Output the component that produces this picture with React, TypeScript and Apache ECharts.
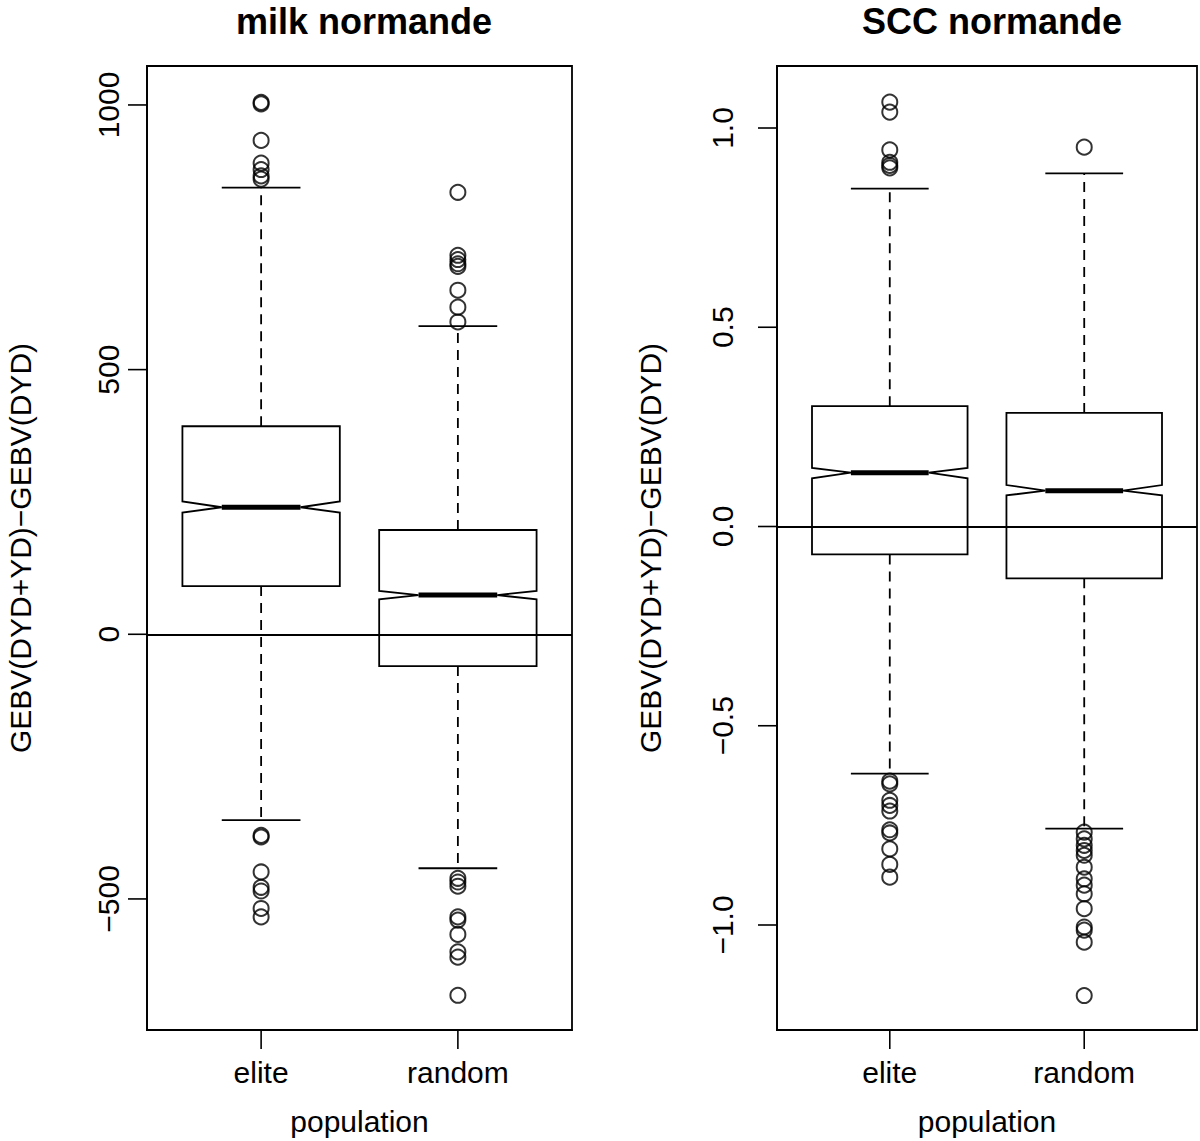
import React, { useEffect, useRef } from "react";
import * as echarts from "echarts";

const categories = ["elite", "random"];

// milk normande
const milkLowerWhisker = [-351, -442];
const milkQ1 = [91, -60];
const milkNotchLow = [230, 66];
const milkMedian = [240, 74];
const milkNotchHigh = [251, 82];
const milkQ3 = [393, 197];
const milkUpperWhisker = [844, 582];
const milkOutliersElite = [1005, 1002, 933, 890, 878, 866, 860, -380, -383, -449, -478, -485, -518, -534];
const milkOutliersRandom = [835, 716, 708, 700, 695, 650, 618, 590, -461, -468, -476, -534, -540, -567, -600, -610, -682];
const milkTicks = [-500, 0, 500, 1000];

// SCC normande
const sccLowerWhisker = [-0.62, -0.758];
const sccQ1 = [-0.07, -0.13];
const sccNotchLow = [0.121, 0.078];
const sccMedian = [0.135, 0.09];
const sccNotchHigh = [0.147, 0.104];
const sccQ3 = [0.302, 0.285];
const sccUpperWhisker = [0.848, 0.886];
const sccOutliersElite = [1.065, 1.04, 0.945, 0.914, 0.906, 0.9, -0.639, -0.646, -0.687, -0.7, -0.714, -0.761, -0.769, -0.809, -0.848, -0.88];
const sccOutliersRandom = [0.952, -0.767, -0.784, -0.8, -0.813, -0.825, -0.855, -0.884, -0.9, -0.922, -0.959, -1.005, -1.013, -1.043, -1.177];
const sccTicks = [-1.0, -0.5, 0.0, 0.5, 1.0];

const xTicks = [1, 2];
const X_MIN = 0.42;
const X_MAX = 2.58;
const MILK_MIN = -747.6;
const MILK_MAX = 1073.6;
const SCC_MIN = -1.2635;
const SCC_MAX = 1.1556;

const FONT = "'Liberation Sans', Arial, Helvetica, sans-serif";
const MINUS = "\u2212";
const TICK_LEN = 19;
const TICK_W = 1.6;

function buildBoxData(lw: number[], q1: number[], nlo: number[], med: number[], nhi: number[], q3: number[], uw: number[]) {
  return categories.map((_, i) => [i + 1, lw[i], q1[i], nlo[i], med[i], nhi[i], q3[i], uw[i]]);
}

function buildOutliers(lists: number[][]) {
  const out: number[][] = [];
  lists.forEach((l, i) => l.forEach((v) => out.push([i + 1, v])));
  return out;
}

// x-axis ticks drawn through api.coord
function makeXTickRenderer(yMin: number) {
  return (params: any, api: any) => {
    const children: any[] = [];
    xTicks.forEach((v) => {
      const p = api.coord([v, yMin]);
      children.push({
        type: "line",
        shape: { x1: p[0], y1: p[1], x2: p[0], y2: p[1] + TICK_LEN },
        style: { stroke: "#000", lineWidth: TICK_W },
      });
    });
    return { type: "group", children };
  };
}

function renderNotchedBox(params: any, api: any) {
  const x = api.value(0);
  const lw = api.value(1);
  const q1 = api.value(2);
  const nlo = api.value(3);
  const med = api.value(4);
  const nhi = api.value(5);
  const q3 = api.value(6);
  const uw = api.value(7);
  const hw = 0.4;
  const p = (dx: number, v: number) => api.coord([x + dx, v]);
  const pts = [
    p(-hw, q1), p(-hw, nlo), p(-hw / 2, med), p(-hw, nhi), p(-hw, q3),
    p(hw, q3), p(hw, nhi), p(hw / 2, med), p(hw, nlo), p(hw, q1),
  ];
  const lineStyle = { stroke: "#000", lineWidth: 1.8, fill: "none" };
  const dashStyle = { stroke: "#000", lineWidth: 1.8, lineDash: [10, 7], fill: "none" };
  const seg = (a: number[], b: number[], style: any) => ({
    type: "line",
    shape: { x1: a[0], y1: a[1], x2: b[0], y2: b[1] },
    style,
  });
  return {
    type: "group",
    children: [
      seg(p(0, q3), p(0, uw), dashStyle),
      seg(p(0, q1), p(0, lw), dashStyle),
      seg(p(-hw / 2, uw), p(hw / 2, uw), lineStyle),
      seg(p(-hw / 2, lw), p(hw / 2, lw), lineStyle),
      { type: "polygon", shape: { points: pts }, style: { fill: "none", stroke: "#000", lineWidth: 1.8 } },
      seg(p(-hw / 2, med), p(hw / 2, med), { stroke: "#000", lineWidth: 5 }),
    ],
  };
}

export default function App() {
  const ref = useRef<HTMLDivElement>(null);
  useEffect(() => {
    if (!ref.current) return;
    const chart = echarts.init(ref.current, undefined, { renderer: "svg" });
    const grids = [
      { left: 147, top: 66, width: 425, height: 964 },
      { left: 777, top: 66, width: 420, height: 964 },
    ];
    const xAxisBase = (gi: number) => ({
      type: "value",
      gridIndex: gi,
      min: X_MIN,
      max: X_MAX,
      splitLine: { show: false },
      axisLine: { show: true, onZero: false, lineStyle: { color: "#000", width: 1.8 } },
      axisTick: { show: false },
      axisLabel: {
        customValues: xTicks,
        formatter: (v: number) => categories[Math.round(v) - 1] ?? "",
        color: "#000",
        fontFamily: FONT,
        fontSize: 30,
        margin: 27,
      },
      name: "population",
      nameLocation: "middle",
      nameGap: 76,
      nameTextStyle: { color: "#000", fontFamily: FONT, fontSize: 30 },
    });
    const fmtMilk = (v: number) => (v < 0 ? MINUS + Math.abs(v) : String(v));
    const fmtScc = (v: number) => (v < 0 ? MINUS + Math.abs(v).toFixed(1) : v.toFixed(1));
    const yAxisBase = (
      gi: number,
      min: number,
      max: number,
      ticks: number[],
      fmt: (v: number) => string,
      margin: number,
      nameGap: number
    ) => ({
      type: "value",
      gridIndex: gi,
      min,
      max,
      splitLine: { show: false },
      axisLine: { show: true, onZero: false, lineStyle: { color: "#000", width: 1.8 } },
      axisTick: { show: false },
      axisLabel: {
        customValues: ticks,
        formatter: fmt,
        rotate: 90,
        color: "#000",
        fontFamily: FONT,
        fontSize: 30,
        margin,
      },
      name: "GEBV(DYD+YD)" + MINUS + "GEBV(DYD)",
      nameLocation: "middle",
      nameGap,
      nameTextStyle: { color: "#000", fontFamily: FONT, fontSize: 30 },
    });
    const zeroLine = {
      silent: true,
      symbol: ["none", "none"],
      label: { show: false },
      lineStyle: { color: "#000", type: "solid", width: 1.8 },
      data: [{ yAxis: 0 }],
    };
    const scatterStyle = {
      symbol: "circle",
      symbolSize: 15,
      itemStyle: { color: "rgba(0,0,0,0)", borderColor: "#000", borderWidth: 2 },
    };
    const xTickSeries = (gi: number, yMid: number, yMin: number) => ({
      type: "custom",
      xAxisIndex: gi,
      yAxisIndex: gi,
      clip: false,
      silent: true,
      z: 5,
      renderItem: makeXTickRenderer(yMin),
      encode: { x: 0, y: 1 },
      data: [[1.5, yMid]],
    });
    chart.setOption({
      animation: false,
      backgroundColor: "#fff",
      title: [
        {
          text: "milk normande",
          left: 359,
          top: -2,
          textAlign: "center",
          textStyle: { color: "#000", fontFamily: FONT, fontSize: 36, fontWeight: "bold" },
        },
        {
          text: "SCC normande",
          left: 987,
          top: -2,
          textAlign: "center",
          textStyle: { color: "#000", fontFamily: FONT, fontSize: 36, fontWeight: "bold" },
        },
      ],
      grid: grids.map((g) => ({ ...g, show: true, borderColor: "#000", borderWidth: 1.8, backgroundColor: "transparent" })),
      xAxis: [xAxisBase(0), xAxisBase(1)],
      yAxis: [
        yAxisBase(0, MILK_MIN, MILK_MAX, milkTicks, fmtMilk, 24, 112),
        yAxisBase(1, SCC_MIN, SCC_MAX, sccTicks, fmtScc, 40, 112),
      ],
      series: [
        xTickSeries(0, 0, MILK_MIN),
        xTickSeries(1, 0, SCC_MIN),
        {
          type: "custom",
          xAxisIndex: 0,
          yAxisIndex: 0,
          renderItem: renderNotchedBox,
          encode: { x: 0, y: [1, 2, 3, 4, 5, 6, 7] },
          data: buildBoxData(milkLowerWhisker, milkQ1, milkNotchLow, milkMedian, milkNotchHigh, milkQ3, milkUpperWhisker),
          silent: true,
        },
        {
          type: "scatter",
          xAxisIndex: 0,
          yAxisIndex: 0,
          ...scatterStyle,
          data: buildOutliers([milkOutliersElite, milkOutliersRandom]),
          markLine: zeroLine,
          silent: true,
        },
        {
          type: "custom",
          xAxisIndex: 1,
          yAxisIndex: 1,
          renderItem: renderNotchedBox,
          encode: { x: 0, y: [1, 2, 3, 4, 5, 6, 7] },
          data: buildBoxData(sccLowerWhisker, sccQ1, sccNotchLow, sccMedian, sccNotchHigh, sccQ3, sccUpperWhisker),
          silent: true,
        },
        {
          type: "scatter",
          xAxisIndex: 1,
          yAxisIndex: 1,
          ...scatterStyle,
          data: buildOutliers([sccOutliersElite, sccOutliersRandom]),
          markLine: zeroLine,
          silent: true,
        },
      ],
    });

    // y-axis ticks: positions from the library's own scales
    const gfx: any[] = [];
    const panels: [number, number[]][] = [
      [0, milkTicks],
      [1, sccTicks],
    ];
    panels.forEach(([gi, ticks]) => {
      ticks.forEach((v) => {
        const p = chart.convertToPixel({ xAxisIndex: gi, yAxisIndex: gi } as any, [X_MIN, v]) as any;
        if (p && isFinite(p[0]) && isFinite(p[1])) {
          gfx.push({
            type: "line",
            z: 100,
            silent: true,
            shape: { x1: p[0] - TICK_LEN, y1: p[1], x2: p[0], y2: p[1] },
            style: { stroke: "#000", lineWidth: TICK_W },
          });
        }
      });
    });
    chart.setOption({ graphic: gfx });

    return () => chart.dispose();
  }, []);
  return (
    <div
      ref={ref}
      style={{ position: "fixed", left: 0, top: 0, width: 1200, height: 1141, background: "#fff" }}
    />
  );
}
